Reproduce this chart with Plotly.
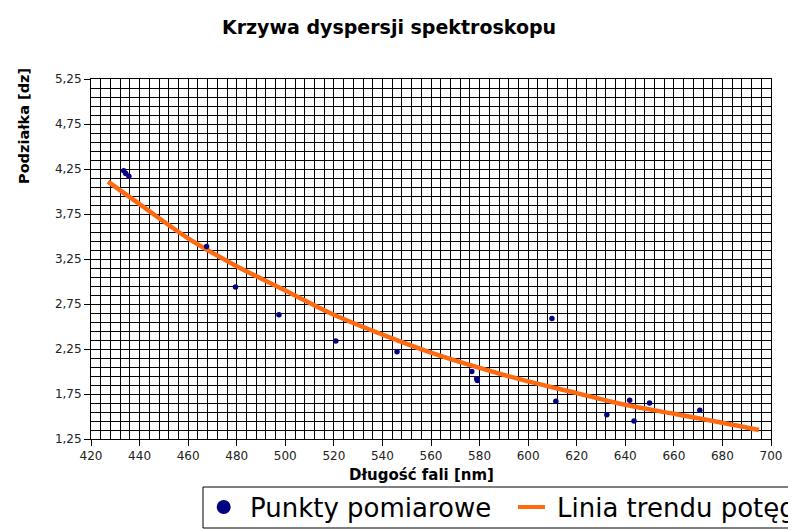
import plotly.graph_objects as go

# Measured points (wavelength nm, scale reading dz)
wavelength = [433.5, 434.3, 435.6, 467.6, 479.5, 497.4, 520.8, 546.0, 576.8, 578.8,
              579.1, 609.8, 611.4, 632.4, 641.8, 643.6, 650.0, 670.7]
scale_dz = [4.23, 4.20, 4.17, 3.39, 2.94, 2.63, 2.34, 2.22, 2.00, 1.92,
            1.90, 2.59, 1.67, 1.52, 1.68, 1.45, 1.65, 1.57]

# Power trend line
trend_x = [427, 440, 460, 480, 500, 520, 540, 560, 580, 600, 620, 640, 660, 680, 695]
trend_y = [4.11, 3.86, 3.48, 3.17, 2.90, 2.63, 2.41, 2.21, 2.04, 1.89, 1.76, 1.63, 1.53, 1.43, 1.35]

x_ticks = list(range(420, 701, 20))
y_ticks = [1.25, 1.75, 2.25, 2.75, 3.25, 3.75, 4.25, 4.75, 5.25]

series_names = ["Punkty pomiarowe", "Linia trendu potęgowa"]

NAVY = "#000080"
ORANGE = "#ff6a10"

# the page places the figure 8 px in from the window's top-left corner
OFF = 8
W, H = 796, 530
PL, PR, PT, PB = 91, 771, 79, 439          # plot area in window pixels
ML, MR, MT, MB = PL - OFF, W - (PR - OFF), PT - OFF, H - (PB - OFF)
PW, PH = PR - PL, PB - PT


def px(xw):
    return (xw - PL) / PW


def py(yw):
    return (PB - yw) / PH


fig = go.Figure()
fig.add_trace(go.Scatter(x=trend_x, y=trend_y, mode="lines", name=series_names[1],
                         line=dict(color=ORANGE, width=4.5, shape="spline")))
fig.add_trace(go.Scatter(x=wavelength, y=scale_dz, mode="markers", name=series_names[0],
                         marker=dict(color=NAVY, size=5.5)))

fig.update_layout(
    width=W, height=H,
    margin=dict(l=ML, r=MR, t=MT, b=MB, autoexpand=False),
    plot_bgcolor="white", paper_bgcolor="white",
    separators=", ",
    font=dict(family="DejaVu Sans", color="#000000", size=12),
    title=dict(text="<b>Krzywa dyspersji spektroskopu</b>", x=(389 - OFF) / W, xanchor="center",
               y=1 - (27 - OFF) / H, yanchor="middle", font=dict(size=19, family="DejaVu Sans")),
    showlegend=False,
)

fig.update_xaxes(range=[420, 700], tickvals=x_ticks, ticktext=[str(v) for v in x_ticks],
                 showgrid=True, gridcolor="#000000", gridwidth=1,
                 minor=dict(dtick=4, tick0=420, showgrid=True, gridcolor="#000000", gridwidth=1),
                 showline=True, linecolor="#000000", linewidth=1, mirror=True,
                 ticks="outside", ticklen=6, tickcolor="#000000",
                 tickfont=dict(size=12, color="#222222"), zeroline=False, automargin=False)
fig.update_yaxes(range=[1.25, 5.25], tickvals=y_ticks, tickformat=".2f",
                 showgrid=True, gridcolor="#000000", gridwidth=1,
                 minor=dict(dtick=0.1, tick0=1.25, showgrid=True, gridcolor="#000000", gridwidth=1),
                 showline=True, linecolor="#000000", linewidth=1, mirror=True,
                 ticks="outside", ticklen=6, tickcolor="#000000",
                 tickfont=dict(size=12, color="#222222"), zeroline=False, automargin=False)

# axis titles
fig.add_annotation(text="<b>Podziałka [dz]</b>", xref="paper", yref="paper",
                   x=px(24), y=py(126), xanchor="center", yanchor="middle",
                   textangle=-90, showarrow=False, font=dict(size=14.5, family="DejaVu Sans"))
fig.add_annotation(text="<b>Długość fali [nm]</b>", xref="paper", yref="paper",
                   x=px(421), y=py(475), xanchor="center", yanchor="middle",
                   showarrow=False, font=dict(size=15, family="DejaVu Sans"))

# legend box (runs off the right edge like the reference)
fig.add_shape(type="rect", xref="paper", yref="paper", x0=px(203), x1=px(830),
              y0=py(528), y1=py(487), line=dict(color="#000000", width=1),
              fillcolor="white", layer="above")
fig.add_shape(type="circle", xref="paper", yref="paper", x0=px(216.7), x1=px(230.7),
              y0=py(514), y1=py(500), line=dict(color=NAVY, width=0), fillcolor=NAVY,
              layer="above")
fig.add_shape(type="line", xref="paper", yref="paper", x0=px(518), x1=px(545),
              y0=py(507), y1=py(507), line=dict(color=ORANGE, width=4), layer="above")
fig.add_annotation(text=series_names[0], xref="paper", yref="paper", x=px(248), y=py(507.5),
                   xanchor="left", yanchor="middle", showarrow=False,
                   font=dict(size=26, family="DejaVu Sans", color="#000000"))
fig.add_annotation(text=series_names[1], xref="paper", yref="paper", x=px(555), y=py(507.5),
                   xanchor="left", yanchor="middle", showarrow=False,
                   font=dict(size=26, family="DejaVu Sans", color="#000000"))

fig.write_html("out.html")
